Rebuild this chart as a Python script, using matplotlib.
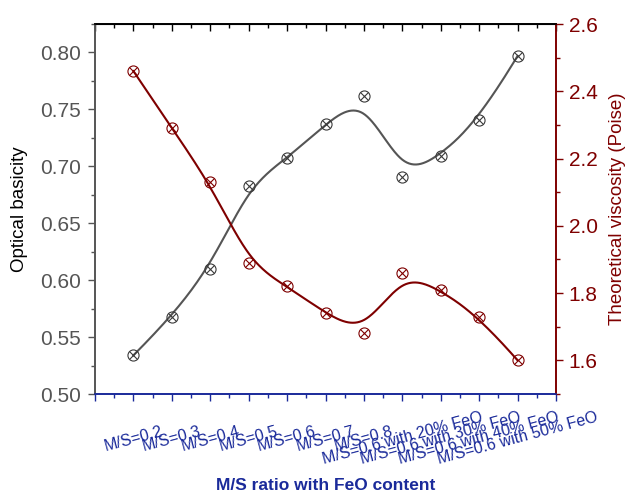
import numpy as np
import matplotlib.pyplot as plt
import matplotlib.transforms as mtransforms
from matplotlib.ticker import MultipleLocator, FixedLocator

plt.rcParams['font.family'] = ['Liberation Sans', 'DejaVu Sans']

# ---- data ----
categories = ["M/S=0.2", "M/S=0.3", "M/S=0.4", "M/S=0.5", "M/S=0.6", "M/S=0.7",
              "M/S=0.8", "M/S=0.6 with 20% FeO", "M/S=0.6 with 30% FeO",
              "M/S=0.6 with 40% FeO", "M/S=0.6 with 50% FeO"]
basicity = [0.534, 0.568, 0.610, 0.683, 0.707, 0.737, 0.762, 0.691, 0.709, 0.741, 0.797]
viscosity = [2.46, 2.29, 2.13, 1.89, 1.82, 1.74, 1.68, 1.86, 1.81, 1.73, 1.60]

GRAY = "#555555"
RED = "#7f0000"
BLUE = "#1a2a9a"


def bspline(xs, ys, num=400, k=3):
    """Clamped uniform B-spline using the points as control points (Origin style)."""
    pts = np.column_stack([xs, ys]).astype(float)
    n = len(pts)
    inner = np.arange(1, n - k)
    knots = np.concatenate([np.zeros(k + 1), inner, np.full(k + 1, n - k)])
    t = np.linspace(0, n - k - 1e-9, num)

    def basis(i, d, t):
        if d == 0:
            return ((knots[i] <= t) & (t < knots[i + 1])).astype(float)
        out = np.zeros_like(t)
        den1 = knots[i + d] - knots[i]
        den2 = knots[i + d + 1] - knots[i + 1]
        if den1 > 0:
            out += (t - knots[i]) / den1 * basis(i, d - 1, t)
        if den2 > 0:
            out += (knots[i + d + 1] - t) / den2 * basis(i + 1, d - 1, t)
        return out

    B = np.array([basis(i, k, t) for i in range(n)])
    curve = B.T @ pts
    curve[-1] = pts[-1]
    return curve[:, 0], curve[:, 1]


x = np.arange(1, len(categories) + 1)

fig = plt.figure(figsize=(6.25, 4.93), dpi=100)
ax = fig.add_axes([0.152, 0.2008, 0.7376, 0.7505])
ax2 = ax.twinx()

# optical basicity
cx, cy = bspline(x, basicity)
ax.plot(cx, cy, color=GRAY, lw=1.5)
ax.plot(x, basicity, ls='none', marker='o', ms=8, mfc='none', mec='#3a3a3a', mew=0.8)
ax.plot(x, basicity, ls='none', marker='x', ms=5.5, mec='#3a3a3a', mew=0.8)

# viscosity
cx, cy = bspline(x, viscosity)
ax2.plot(cx, cy, color=RED, lw=1.5)
ax2.plot(x, viscosity, ls='none', marker='o', ms=8, mfc='none', mec=RED, mew=0.8)
ax2.plot(x, viscosity, ls='none', marker='x', ms=5.5, mec=RED, mew=0.8)

ax.set_xlim(0, 12)
ax.set_ylim(0.5, 0.825)
ax2.set_ylim(1.5, 2.6)

# x axis
ax.xaxis.set_major_locator(FixedLocator(np.arange(0, 13)))
ax.xaxis.set_minor_locator(MultipleLocator(0.5))
ax.set_xticklabels([""] + categories + [""], rotation=15, ha='center', va='center',
                   fontsize=11.5, color=BLUE)
shift = mtransforms.ScaledTranslation(4 / 100, 0, fig.dpi_scale_trans)
for lbl in ax.get_xticklabels():
    lbl.set_transform(lbl.get_transform() + shift)
ax.tick_params(axis='x', which='major', direction='out', length=5, width=1,
               color=BLUE, pad=27)
ax.tick_params(axis='x', which='minor', direction='out', length=3, width=1, color=BLUE)
ax.set_xlabel("M/S ratio with FeO content", fontsize=12.5, fontweight='bold',
              color=BLUE, labelpad=8)

# top ticks
top = ax.secondary_xaxis('top')
top.xaxis.set_major_locator(FixedLocator(np.arange(0, 13)))
top.xaxis.set_minor_locator(MultipleLocator(0.5))
top.tick_params(which='major', direction='in', length=5, width=1, color='black',
                labeltop=False)
top.tick_params(which='minor', direction='in', length=3, width=1, color='black')
top.spines['top'].set_color('black')

# left axis
ax.yaxis.set_major_locator(MultipleLocator(0.05))
ax.yaxis.set_minor_locator(MultipleLocator(0.025))
ax.yaxis.set_major_formatter(plt.FormatStrFormatter('%.2f'))
ax.tick_params(axis='y', which='major', direction='out', length=5, width=1,
               color=GRAY, labelcolor=GRAY, labelsize=15, pad=5)
ax.tick_params(axis='y', which='minor', direction='out', length=3, width=1, color=GRAY)
ax.set_ylabel("Optical basicity", fontsize=13.5, color='black', labelpad=9)

# right axis
ax2.yaxis.set_major_locator(MultipleLocator(0.2))
ax2.yaxis.set_minor_locator(MultipleLocator(0.1))
ax2.yaxis.set_major_formatter(plt.FormatStrFormatter('%.1f'))
ax2.tick_params(axis='y', which='major', direction='out', length=5, width=1,
                color=RED, labelcolor=RED, labelsize=15, pad=4)
ax2.tick_params(axis='y', which='minor', direction='out', length=3, width=1, color=RED)
ax2.set_ylabel("Theoretical viscosity (Poise)", fontsize=13.5, color=RED, labelpad=8)

for a in (ax, ax2):
    a.spines['left'].set_color(GRAY)
    a.spines['right'].set_color(RED)
    a.spines['bottom'].set_color(BLUE)
    a.spines['top'].set_color('black')
    for s in a.spines.values():
        s.set_linewidth(1.2)

fig.savefig("out.png", dpi=100)
